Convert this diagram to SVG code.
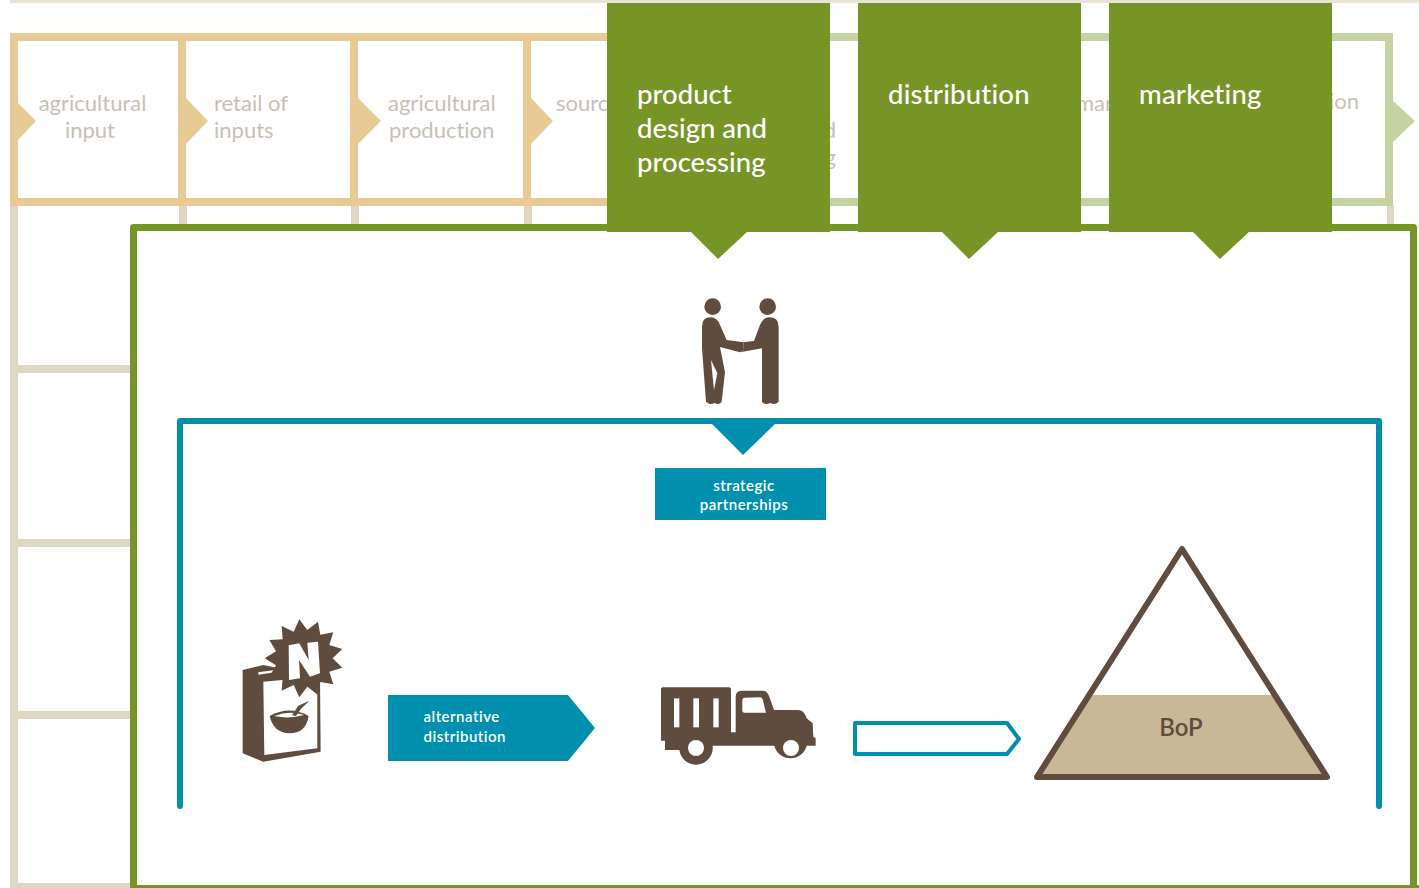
<svg xmlns="http://www.w3.org/2000/svg" width="1419" height="888" viewBox="0 0 1419 888">
<style>
text{font-family:"Lato","Noto Sans","Liberation Sans",sans-serif;font-variant-ligatures:none}
.g{font-size:22px;fill:#c8bfb6}
.h{font-size:27.500px;fill:#fff;font-weight:500}
.s{font-size:15px;fill:#fff;font-weight:600;letter-spacing:.5px}
.tan{fill:#e8cb94}.lg{fill:#c5d3a2}.gr{fill:#dfd6c3}.dg{fill:#769526}.t{fill:#0090ae}.b{fill:#604c3f}.w{fill:#fff}
</style>
<rect width="1419" height="888" fill="#fff"/>
<g id="background-grid">
<rect x="10" y="0" width="1409" height="3" fill="#e8e3d5"/>
<rect class="gr" x="10" y="205" width="8" height="683"/>
<rect class="gr" x="179" y="205" width="8" height="25"/>
<rect class="gr" x="351" y="205" width="8" height="25"/>
<rect class="gr" x="524" y="205" width="8" height="25"/>
<rect class="gr" x="1387" y="205" width="7" height="25"/>
<rect class="gr" x="10" y="365" width="125" height="8"/>
<rect class="gr" x="10" y="539" width="125" height="8"/>
<rect class="gr" x="10" y="711" width="125" height="8"/>
<rect class="gr" x="10" y="883" width="125" height="5"/>
</g>
<g id="chain-frame">
<rect class="lg" x="600" y="33" width="793" height="8"/>
<rect class="lg" x="600" y="198" width="793" height="8"/>
<rect class="lg" x="1385" y="33" width="8" height="173"/>
<polygon class="lg" points="1393,101 1415,121 1393,142"/>
<rect class="tan" x="10" y="33" width="600" height="8"/>
<rect class="tan" x="10" y="198" width="600" height="8"/>
<rect class="tan" x="10" y="33" width="8" height="173"/>
<rect class="tan" x="178" y="33" width="8" height="173"/>
<rect class="tan" x="350" y="33" width="8" height="173"/>
<rect class="tan" x="523" y="33" width="8" height="173"/>
<polygon class="tan" points="18,103 36,121 18,140"/>
<polygon class="tan" points="186,98 208,121 186,144"/>
<polygon class="tan" points="358,98 381,121 358,144"/>
<polygon class="tan" points="531,98 553,121 531,144"/>
</g>
<g id="chain-labels">
<text class="g" x="92.500" y="111" text-anchor="middle">agricultural</text>
<text class="g" x="90" y="138" text-anchor="middle">input</text>
<text class="g" x="214" y="111">retail of</text>
<text class="g" x="214" y="138">inputs</text>
<text class="g" x="388" y="111">agricultural</text>
<text class="g" x="389" y="138">production</text>
<text class="g" x="556" y="111">sourc</text>
<text class="g" x="836" y="138" text-anchor="end">d</text>
<text class="g" x="836" y="165" text-anchor="end">g</text>
<text class="g" x="1076" y="111">mar</text>
<text class="g" x="1359" y="109" text-anchor="end">ion</text>
</g>
<g id="main-frame">
<path d="M133.500 888V227.500H1413.500V888" fill="none" stroke="#769526" stroke-width="7" stroke-linejoin="round"/>
<rect class="dg" x="130" y="885" width="1289" height="3"/>
</g>
<g id="product-design">
<path class="dg" d="M607 3H830V232H747L718 259 691 232H607Z"/>
<text class="h" x="637" y="104">product</text>
<text class="h" x="637" y="138">design and</text>
<text class="h" x="637" y="172">processing</text>
</g>
<g id="distribution">
<path class="dg" d="M858 3H1081V232H998L969 259 942 232H858Z"/>
<text class="h" x="888" y="104" letter-spacing=".2">distribution</text>
</g>
<g id="marketing">
<path class="dg" d="M1109 3H1332V232H1249L1220 259 1193 232H1109Z"/>
<text class="h" x="1139" y="104" letter-spacing=".2">marketing</text>
</g>
<g id="teal-frame">
<path d="M180 806V421H1379V806" fill="none" stroke="#0090ae" stroke-width="6" stroke-linecap="round" stroke-linejoin="round"/>
<polygon class="t" points="712,424 775,424 743,455"/>
</g>
<g id="handshake" transform="translate(680 285) scale(.3333)">
<circle class="b" cx="98" cy="65" r="25"/>
<circle class="b" cx="263" cy="65" r="25"/>
<path class="b" d="M66 125Q66 97 92 97 112 97 120 120L140 165 190 172 192 195 180 202 120 186 135 262 125 350Q118 362 103 354 90 362 78 350L66 190Z"/>
<path class="w" d="M93 225L102 315 112 265Z"/>
<path class="b" d="M296 125Q296 97 268 97 250 97 240 120L222 168 190 172 192 195 180 202 246 190V350Q255 362 270 354 285 362 296 350Z"/>
</g>
<g id="strategic-partnerships">
<rect class="t" x="655" y="468" width="171" height="52"/>
<text class="s" x="744" y="491" text-anchor="middle">strategic</text>
<text class="s" x="744" y="510" text-anchor="middle">partnerships</text>
</g>
<g id="new-product" transform="translate(230 610) scale(.3333)">
<path class="b" d="M38 180L100 165 270 200 272 425 100 455 38 430Z"/>
<path class="w" d="M100 215L262 200V415L103 435Z"/>
<path class="w" d="M85 187L135 180V187L85 194Z"/>
<polygon class="b" points="208,28 232,60 264,35 271,74 310,67 298,105 337,117 308,145 337,173 298,185 310,223 271,216 264,255 232,230 208,262 191,225 155,242 158,202 118,200 138,166 104,145 138,124 118,90 158,88 155,48 191,65"/>
<path class="w" d="M176 106L208 100 236 150 232 98 264 95 270 190 240 200 207 150 210 205 177 210Z"/>
<path class="b" d="M119 318Q178 285 236 318 228 370 178 370 130 368 119 318Z"/>
<path class="w" d="M133 318Q178 300 222 315 178 328 133 318Z"/>
<path class="b" d="M186 316L205 287 238 272 212 298 198 318Z"/>
</g>
<g id="alternative-distribution">
<polygon class="t" points="388,695 568,695 595,728 568,761 388,761"/>
<text class="s" x="423.500" y="722">alternative</text>
<text class="s" x="423.500" y="742">distribution</text>
</g>
<g id="truck" transform="translate(650 675) scale(.3333)">
<path class="b" d="M33 42Q33 37 38 37H238Q243 37 243 42V172H257V65Q257 47 275 47H340Q352 47 358 65L372 105H445Q462 105 470 130L488 145 490 185 497 190V212H470A50 50 0 0 1 373 212H188A50 50 0 0 1 88 225H45V197H33Z"/>
<rect class="w" x="72" y="70" width="16" height="87"/>
<rect class="w" x="130" y="70" width="17" height="87"/>
<rect class="w" x="190" y="70" width="16" height="87"/>
<path class="w" d="M277 75Q277 68 284 68L330 67Q336 67 338 73L348 113H283Q277 113 277 107Z"/>
<circle class="w" cx="138" cy="219" r="24"/>
<circle class="w" cx="423" cy="219" r="24"/>
</g>
<g id="connectors">
<polygon points="855,723 1007,723 1019,739 1007,754 855,754" fill="#fff" stroke="#0090ae" stroke-width="4" stroke-linejoin="round"/>
</g>
<g id="bop-pyramid">
<polygon points="1089,695 1275,695 1327,777 1037,777" fill="#c8b897"/>
<polygon points="1182,549 1327,777 1037,777" fill="none" stroke="#604c3f" stroke-width="6" stroke-linejoin="round"/>
<text x="1181" y="736" text-anchor="middle" font-size="24" font-weight="600" fill="#604c3f">BoP</text>
</g>
</svg>
